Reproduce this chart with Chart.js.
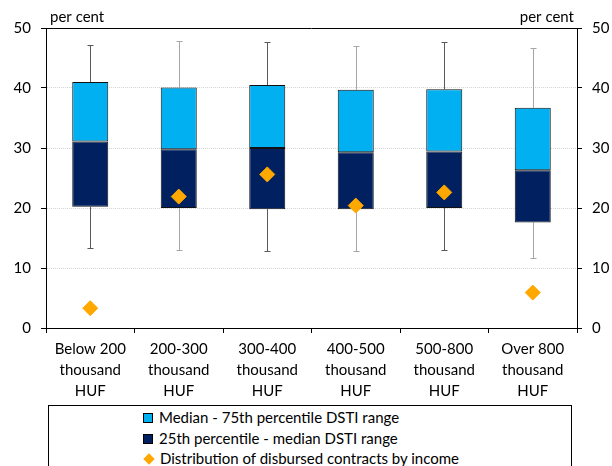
<!DOCTYPE html>
<html>
<head>
<meta charset="utf-8">
<script src="https://cdn.jsdelivr.net/npm/chart.js@4.4.1/dist/chart.umd.min.js"></script>
<style>
  html, body { margin: 0; padding: 0; background: #fff; }
  body { width: 612px; height: 466px; position: relative; overflow: hidden; font-family: Lato, sans-serif; }
  #wrap { position: absolute; left: 0; top: 0; width: 612px; height: 400px; }
  #legend {
    position: absolute; left: 48px; top: 405px; width: 524px; height: 80px;
    border: 1px solid #000; box-sizing: border-box; font-size: 15px; color: #000;
  }
  #legend .row { position: absolute; left: 94px; height: 20px; line-height: 20px; white-space: nowrap; }
  #legend .sw { display: inline-block; width: 8px; height: 8px; border: 1px solid #000; margin-right: 6px; vertical-align: 0px; }
  #legend .dia { display: inline-block; width: 8px; height: 8px; background: #ffa800; transform: rotate(45deg); margin: 0 7px 0 2px; vertical-align: 1px; }
</style>
</head>
<body>
<div id="wrap"><canvas id="chart"></canvas></div>
<div id="legend">
  <div class="row" style="top:1px"><span class="sw" style="background:#00b0f0"></span>Median - 75th percentile DSTI range</div>
  <div class="row" style="top:22px"><span class="sw" style="background:#002060"></span>25th percentile - median DSTI range</div>
  <div class="row" style="top:42px"><span class="dia"></span>Distribution of disbursed contracts by income</div>
</div>
<script>
// --- data ---
const categories = [
  ["Below 200", "thousand", "HUF"],
  ["200-300", "thousand", "HUF"],
  ["300-400", "thousand", "HUF"],
  ["400-500", "thousand", "HUF"],
  ["500-800", "thousand", "HUF"],
  ["Over 800", "thousand", "HUF"],
];
const p25 = [20.2, 20.0, 19.8, 19.8, 20.0, 17.6];
const median = [31.1, 29.8, 30.0, 29.3, 29.4, 26.3];
const p75 = [41.0, 40.1, 40.5, 39.7, 39.8, 36.7];
const whiskerLow = [13.4, 13.0, 12.8, 12.9, 13.0, 11.6];
const whiskerHigh = [47.1, 47.9, 47.7, 47.0, 47.7, 46.6];
const contractShare = [3.3, 21.9, 25.6, 20.4, 22.6, 5.9];
const yTicks = [0, 10, 20, 30, 40, 50];

const FONT = "Lato, sans-serif";
const whiskerColors = ["#595959", "#a6a6a6", "#595959", "#a6a6a6", "#595959", "#a6a6a6"];

// whiskers, top frame line and "per cent" labels
const extras = {
  id: "extras",
  beforeDatasetsDraw(chart) {
    const { ctx, scales: { x, y } } = chart;
    ctx.save();
    ctx.lineWidth = 1;
    categories.forEach((_, i) => {
      const cx = Math.round(x.getPixelForValue(i)) + 0.5;
      ctx.strokeStyle = whiskerColors[i];
      ctx.beginPath();
      const yHi = Math.round(y.getPixelForValue(whiskerHigh[i])) + 0.5;
      const yLo = Math.round(y.getPixelForValue(whiskerLow[i])) + 0.5;
      ctx.moveTo(cx, y.getPixelForValue(p75[i]));
      ctx.lineTo(cx, yHi);
      ctx.moveTo(cx - 3, yHi);
      ctx.lineTo(cx + 3, yHi);
      ctx.moveTo(cx, y.getPixelForValue(p25[i]));
      ctx.lineTo(cx, yLo);
      ctx.moveTo(cx - 3, yLo);
      ctx.lineTo(cx + 3, yLo);
      ctx.stroke();
    });
    ctx.restore();
  },
  afterDraw(chart) {
    const { ctx, chartArea: a } = chart;
    ctx.save();
    ctx.strokeStyle = "#000";
    ctx.lineWidth = 1;
    ctx.beginPath();
    ctx.moveTo(a.left, Math.round(a.top) + 0.5);
    ctx.lineTo(a.right, Math.round(a.top) + 0.5);
    ctx.stroke();
    ctx.fillStyle = "#000";
    ctx.font = "15px " + FONT;
    ctx.textBaseline = "alphabetic";
    ctx.textAlign = "left";
    ctx.fillText("per cent", a.left + 4, a.top - 6);
    ctx.textAlign = "right";
    ctx.fillText("per cent", a.right - 3, a.top - 6);
    ctx.restore();
  },
};

const yAxis = (position, width) => ({
  position,
  min: 0,
  max: 50,
  afterBuildTicks: (s) => { s.ticks = yTicks.map((v) => ({ value: v })); },
  afterFit: (s) => { s.width = width; },
  ticks: { color: "#000", font: { family: FONT, size: 15 }, padding: 10 },
  grid: {
    drawOnChartArea: position === "left",
    color: (c) => (c.tick && (c.tick.value === 0 || c.tick.value === 50) ? "rgba(0,0,0,0)" : "#d4d4d4"),
    tickColor: "#000",
    tickLength: 5,
  },
  border: { color: "#000", width: 1, dash: [1, 1] },
});

new Chart(document.getElementById("chart"), {
  type: "bar",
  data: {
    labels: categories,
    datasets: [
      {
        label: "Distribution of disbursed contracts by income",
        type: "line",
        data: contractShare,
        showLine: false,
        pointStyle: "rectRot",
        pointRadius: 7.5,
        pointBackgroundColor: "#ffa800",
        pointBorderColor: "#ffa800",
        pointBorderWidth: 1,
        order: 0,
        yAxisID: "y",
      },
      {
        label: "Median - 75th percentile DSTI range",
        data: median.map((m, i) => [m, p75[i]]),
        backgroundColor: "#00b0f0",
        borderColor: "#111",
        borderWidth: 1,
        borderSkipped: false,
        grouped: false,
        barPercentage: 0.407,
        categoryPercentage: 1,
        order: 1,
        yAxisID: "y",
      },
      {
        label: "25th percentile - median DSTI range",
        data: p25.map((v, i) => [v, median[i]]),
        backgroundColor: "#002060",
        borderColor: "#111",
        borderWidth: 1,
        borderSkipped: false,
        grouped: false,
        barPercentage: 0.407,
        categoryPercentage: 1,
        order: 1,
        yAxisID: "y",
      },
    ],
  },
  options: {
    responsive: true,
    maintainAspectRatio: false,
    animation: false,
    layout: { padding: { top: 28, left: 0, right: 0, bottom: 0 } },
    plugins: { legend: { display: false }, tooltip: { enabled: false } },
    scales: {
      x: {
        afterFit: (s) => { s.height = 72; },
        ticks: { color: "#000", font: { family: FONT, size: 15, lineHeight: 1.4 }, padding: 6, maxRotation: 0, autoSkip: false },
        grid: { drawOnChartArea: false, tickColor: "#000", tickLength: 5, offset: true },
        border: { color: "#000", width: 1 },
      },
      y: yAxis("left", 46),
      y2: yAxis("right", 35),
    },
  },
  plugins: [extras],
});
</script>
</body>
</html>
